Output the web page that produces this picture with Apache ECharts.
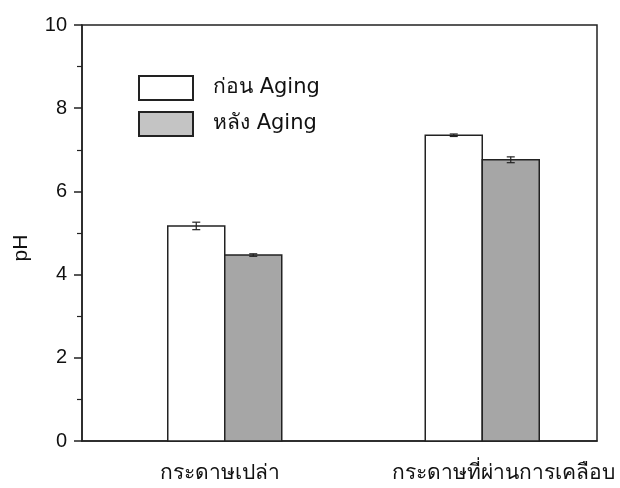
<!DOCTYPE html>
<html><head><meta charset="utf-8">
<script src="https://cdn.jsdelivr.net/npm/echarts@6/dist/echarts.min.js"></script>
<style>html,body{margin:0;padding:0;background:#fff}#c{width:620px;height:488px}</style>
</head><body><div id="c"></div>
<script>
var categories = ['กระดาษเปล่า', 'กระดาษที่ผ่านการเคลือบ'];
var seriesNames = ['ก่อน Aging', 'หลัง Aging'];
var beforeValues = [5.17, 7.35];
var beforeErrors = [0.09, 0.03];
var afterValues = [4.47, 6.76];
var afterErrors = [0.03, 0.07];
var yTicks = [0, 2, 4, 6, 8, 10];

var FONT = '"Liberation Sans", Arial, "Noto Sans", sans-serif';
var LEGEND_FONT = '"DejaVu Sans", Verdana, sans-serif';

function makeData(vals, errs) {
  return vals.map(function (v, i) { return [i, v, errs[i]]; });
}

function makeRender(offset, fill) {
  return function (params, api) {
    var idx = api.value(0), v = api.value(1), e = api.value(2);
    var base = api.coord([idx, 0]);
    var top = api.coord([idx, v]);
    var hi = api.coord([idx, v + e])[1];
    var lo = api.coord([idx, v - e])[1];
    var cx = base[0] + offset;
    var w = 57;
    var cap = 4;
    return {
      type: 'group',
      children: [
        { type: 'rect', shape: { x: cx - w / 2, y: top[1], width: w, height: base[1] - top[1] },
          style: { fill: fill, stroke: '#222', lineWidth: 1.5 } },
        { type: 'line', shape: { x1: cx, y1: hi, x2: cx, y2: lo }, style: { stroke: '#222', lineWidth: 1.2 } },
        { type: 'line', shape: { x1: cx - cap, y1: hi, x2: cx + cap, y2: hi }, style: { stroke: '#222', lineWidth: 1.2 } },
        { type: 'line', shape: { x1: cx - cap, y1: lo, x2: cx + cap, y2: lo }, style: { stroke: '#222', lineWidth: 1.2 } }
      ]
    };
  };
}

var chart = echarts.init(document.getElementById('c'));
chart.setOption({
  animation: false,
  backgroundColor: '#fff',
  grid: { left: 82, top: 25, right: 23, bottom: 47, show: true, borderColor: '#222', borderWidth: 1.5, backgroundColor: 'transparent' },
  legend: {
    orient: 'vertical', left: 138, top: 75, padding: 0, itemWidth: 54, itemHeight: 24, itemGap: 10,
    textStyle: { fontFamily: LEGEND_FONT, fontSize: 21, color: '#111', padding: [0, 0, 0, 15] },
    data: [
      { name: seriesNames[0], icon: 'rect', itemStyle: { color: '#fff', borderColor: '#222', borderWidth: 2 } },
      { name: seriesNames[1], icon: 'rect', itemStyle: { color: '#c4c4c4', borderColor: '#222', borderWidth: 2 } }
    ]
  },
  xAxis: {
    type: 'category',
    data: [
      { value: categories[0], textStyle: { padding: [0, 0, 0, 18] } },
      { value: categories[1], textStyle: { padding: [0, 0, 0, 70] } }
    ],
    boundaryGap: true,
    axisLine: { lineStyle: { color: '#222', width: 1.5 } },
    axisTick: { show: false },
    axisLabel: { fontFamily: FONT, fontSize: 21, color: '#111', margin: 22, interval: 0 },
    splitLine: { show: false }
  },
  yAxis: {
    type: 'value', min: yTicks[0], max: yTicks[yTicks.length - 1], interval: 2,
    name: 'pH', nameLocation: 'middle', nameGap: 50, nameRotate: 90,
    nameTextStyle: { fontFamily: FONT, fontSize: 21, color: '#111', padding: [0, 30, 0, 0] },
    axisLine: { show: true, lineStyle: { color: '#222', width: 1.5 } },
    axisTick: { show: true, inside: false, length: 8, lineStyle: { color: '#222', width: 1.5 } },
    minorTick: { show: true, splitNumber: 2, length: 5, lineStyle: { color: '#222', width: 1.2 } },
    axisLabel: { fontFamily: FONT, fontSize: 20, color: '#111', margin: 15 },
    splitLine: { show: false }
  },
  series: [
    { name: seriesNames[0], type: 'custom', data: makeData(beforeValues, beforeErrors),
      renderItem: makeRender(-14.5, '#ffffff'), itemStyle: { color: '#fff', borderColor: '#222' }, z: 3 },
    { name: seriesNames[1], type: 'custom', data: makeData(afterValues, afterErrors),
      renderItem: makeRender(42.5, '#a6a6a6'), itemStyle: { color: '#c4c4c4', borderColor: '#222' }, z: 3 }
  ]
});
</script></body></html>
